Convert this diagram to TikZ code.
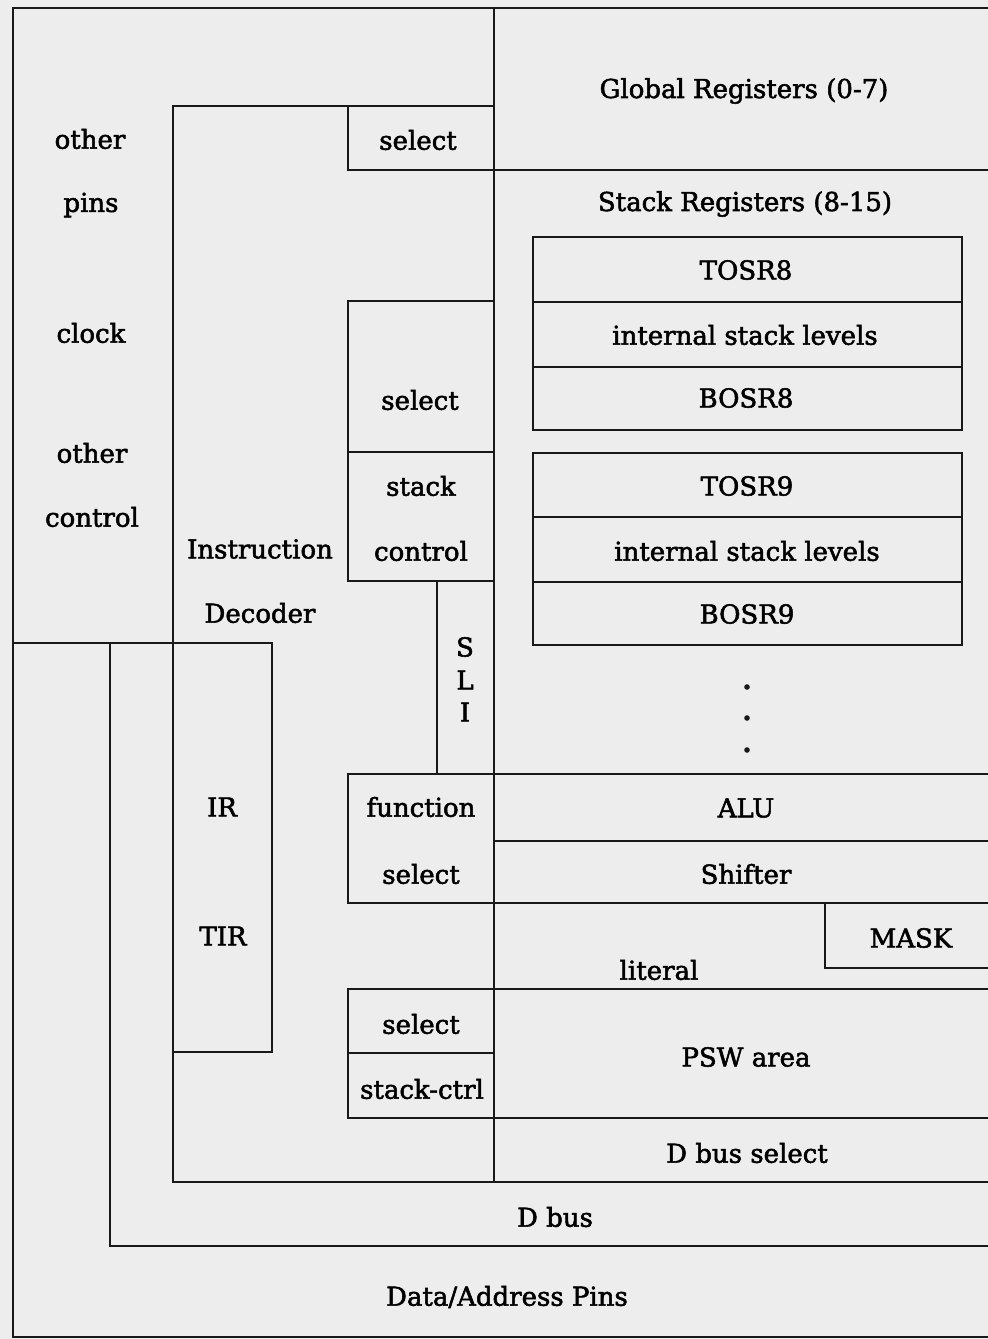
\documentclass[tikz,border=0pt]{standalone}
\usepackage{fontspec}
\setmainfont{DejaVu Serif}[RawFeature={embolden=2}]
\begin{document}
\begin{tikzpicture}[x=0.5pt,y=-0.5pt]
	% Styles
	\tikzstyle{trait}=[line width=1.4pt,black!90]
	\tikzstyle{texte}=[inner sep=0pt,font=\fontsize{13}{15}\selectfont]
	\tikzstyle{point}=[fill=black!90]
	% Colonnes
	\def\XBord{13}
	\def\XBus{110}
	\def\XDec{173}
	\def\XIR{272}
	\def\XSel{348}
	\def\XSli{437}
	\def\XMil{494}
	\def\XPile{533}
	\def\XPileD{962}
	\def\XMask{825}
	\def\XFin{988}
	% Fond
	\fill[black!7] (0,0) rectangle (988,1339);
	\useasboundingbox (0,0) rectangle (988,1339);
	% Cadre
	\draw[trait] (\XFin,8)--(\XBord,8)--(\XBord,1337)--(\XFin,1337);
	\draw[trait] (\XMil,8)--(\XMil,1182);
	% Decodeur
	\draw[trait] (\XMil,106)--(\XDec,106)--(\XDec,1182)--(\XFin,1182);
	\draw[trait] (\XBord,643)--(\XIR,643)--(\XIR,1052)--(\XDec,1052);
	\draw[trait] (\XBus,643)--(\XBus,1246)--(\XFin,1246);
	% Selections
	\draw[trait] (\XSel,106)--(\XSel,170)--(\XFin,170);
	\draw[trait] (\XMil,301)--(\XSel,301)--(\XSel,581)--(\XMil,581);
	\draw[trait] (\XSel,452)--(\XMil,452);
	\draw[trait] (\XSli,581)--(\XSli,774);
	\draw[trait] (\XFin,774)--(\XSel,774)--(\XSel,903)--(\XFin,903);
	\draw[trait] (\XMil,841)--(\XFin,841);
	\draw[trait] (\XFin,968)--(\XMask,968)--(\XMask,903);
	\draw[trait] (\XFin,989)--(\XSel,989)--(\XSel,1118)--(\XFin,1118);
	\draw[trait] (\XSel,1053)--(\XMil,1053);
	% Piles
	\draw[trait] (\XPile,237) rectangle (\XPileD,430);
	\draw[trait] (\XPile,302)--(\XPileD,302);
	\draw[trait] (\XPile,367)--(\XPileD,367);
	\draw[trait] (\XPile,453) rectangle (\XPileD,645);
	\draw[trait] (\XPile,517)--(\XPileD,517);
	\draw[trait] (\XPile,582)--(\XPileD,582);
	\fill[point] (747,687) circle (2.8);
	\fill[point] (747,718) circle (2.8);
	\fill[point] (747,750) circle (2.8);
	% Etiquettes
	\node[texte] (autres) at (90,139) {other};
	\node[texte] (broches) at (91,205) {pins};
	\node[texte] (horloge) at (91,333) {clock};
	\node[texte] (autres2) at (92,453) {other};
	\node[texte] (controle) at (92,517) {control};
	\node[texte] (selA) at (418,140) {select};
	\node[texte] (globaux) at (744,91) {Global Registers (0-7)};
	\node[texte] (pile) at (745,204) {Stack Registers (8-15)};
	\node[texte] (tosrA) at (746,270) {TOSR8};
	\node[texte] (niveauxA) at (745,335) {internal stack levels};
	\node[texte] (bosrA) at (746,398) {BOSR8};
	\node[texte] (selB) at (420,400) {select};
	\node[texte] (pileC) at (421,486) {stack};
	\node[texte] (pileD) at (421,551) {control};
	\node[texte] (instr) at (260,549) {Instruction};
	\node[texte] (decod) at (260,613) {Decoder};
	\node[texte] (sliS) at (465,647) {S};
	\node[texte] (sliL) at (465,680) {L};
	\node[texte] (sliI) at (465,712) {I};
	\node[texte] (tosrB) at (747,486) {TOSR9};
	\node[texte] (niveauxB) at (747,551) {internal stack levels};
	\node[texte] (bosrB) at (747,614) {BOSR9};
	\node[texte] (ir) at (222,807) {IR};
	\node[texte] (tir) at (223,936) {TIR};
	\node[texte] (fonc) at (421,807) {function};
	\node[texte] (selC) at (421,874) {select};
	\node[texte] (alu) at (746,808) {ALU};
	\node[texte] (decal) at (746,874) {Shifter};
	\node[texte] (masque) at (911,938) {MASK};
	\node[texte] (litteral) at (659,970) {literal};
	\node[texte] (selD) at (421,1024) {select};
	\node[texte] (pileE) at (422,1089) {stack-ctrl};
	\node[texte] (psw) at (746,1057) {PSW area};
	\node[texte] (dbussel) at (747,1153) {D bus select};
	\node[texte] (dbus) at (555,1217) {D bus};
	\node[texte] (broches2) at (507,1297) {Data/Address Pins};
\end{tikzpicture}
\end{document}
